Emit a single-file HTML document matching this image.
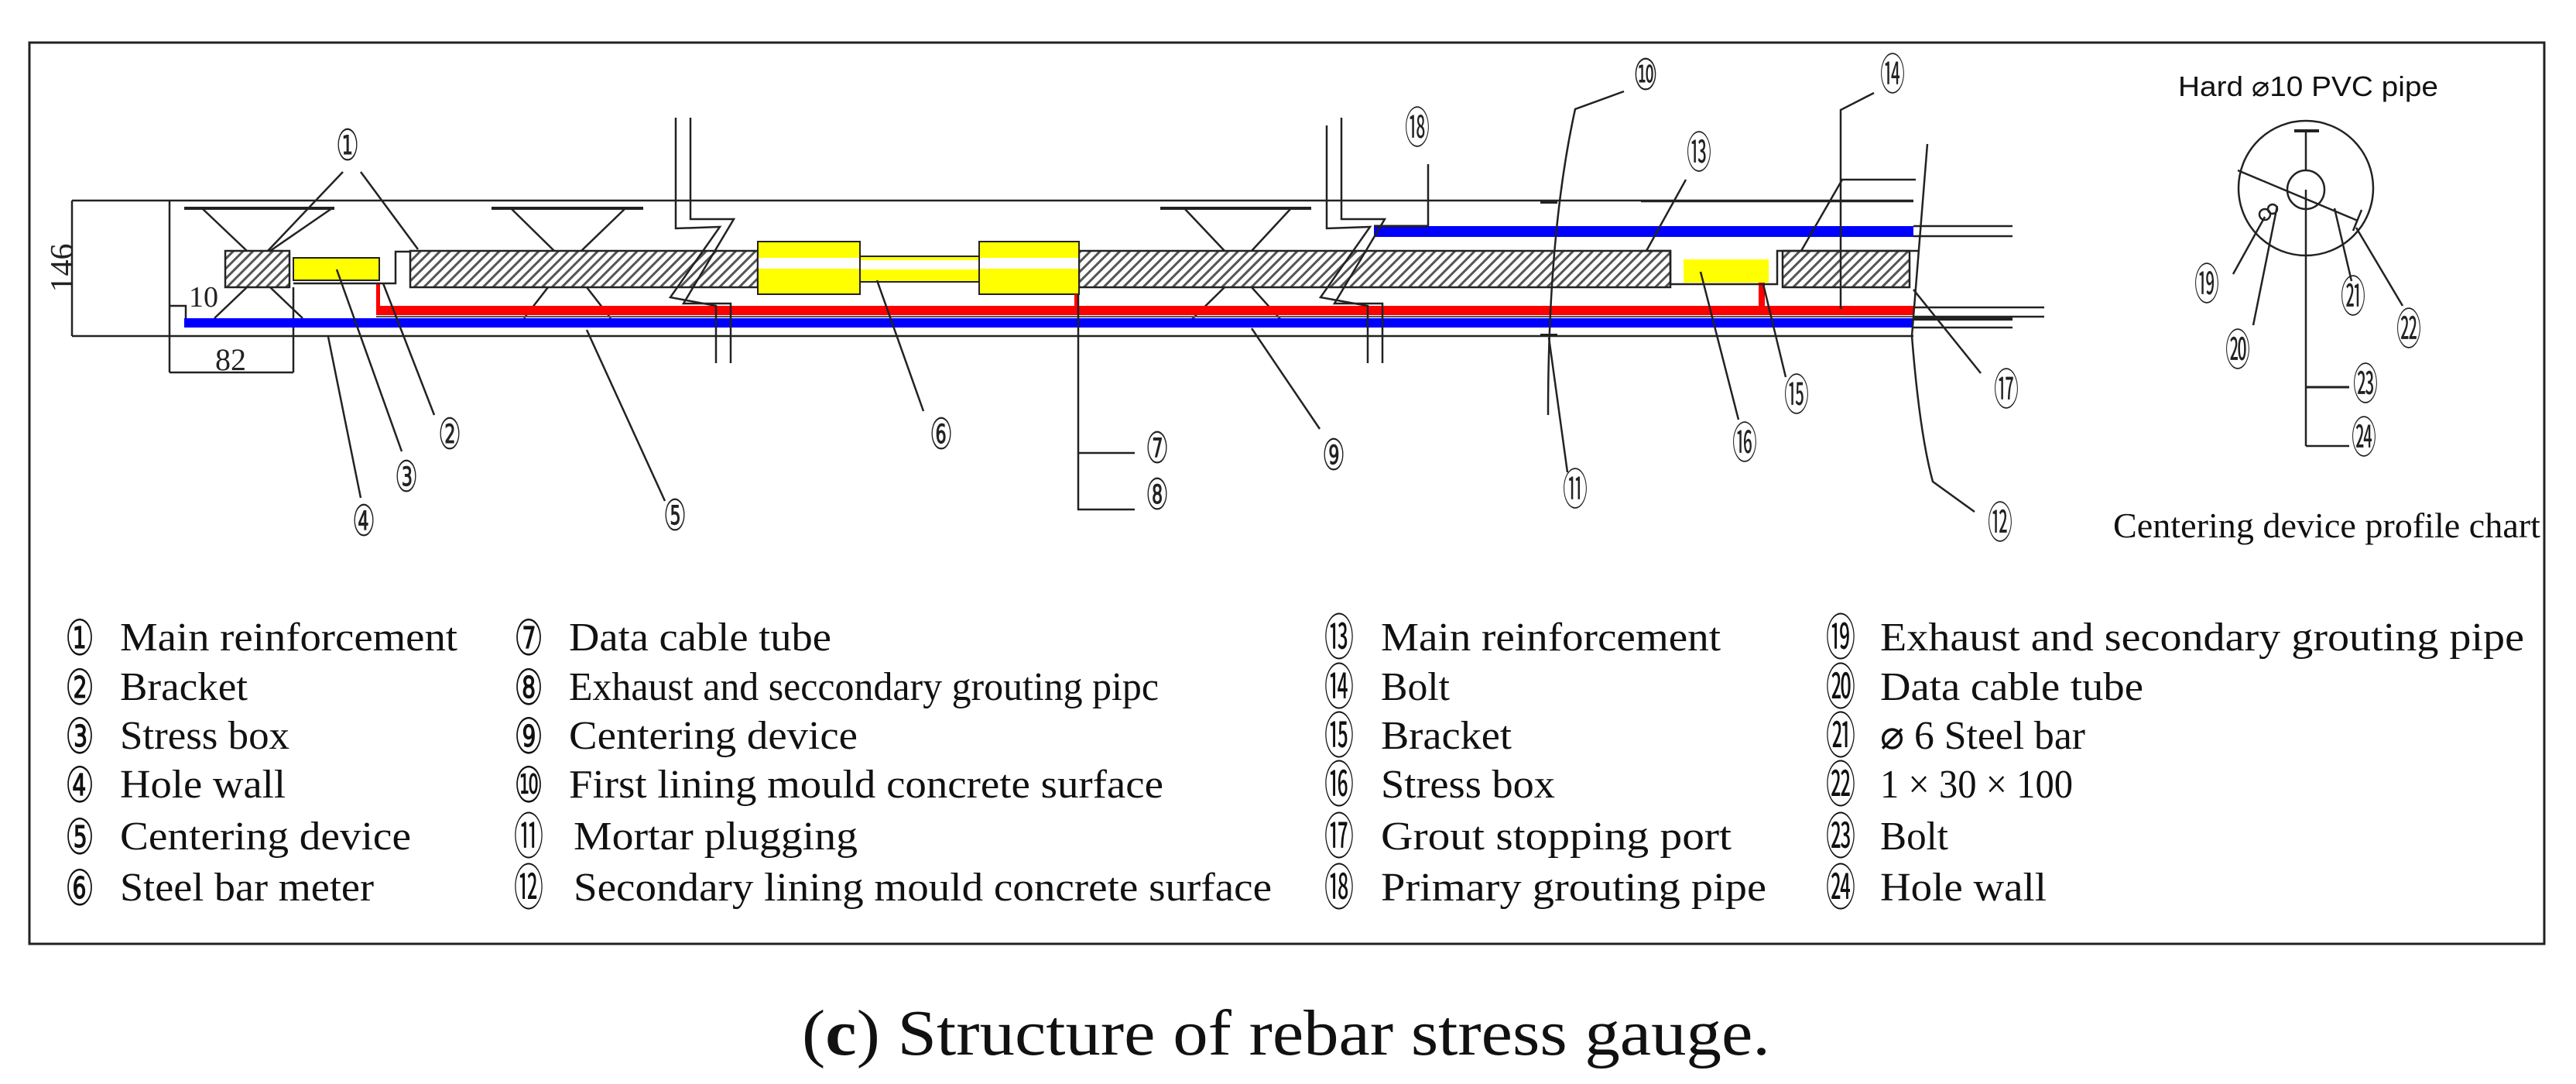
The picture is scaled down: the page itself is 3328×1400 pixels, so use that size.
<!DOCTYPE html>
<html><head><meta charset="utf-8"><style>
html,body{margin:0;padding:0;background:#fff}
svg{display:block}
.n{font-family:"DejaVu Sans","Noto Sans CJK SC",sans-serif;font-size:56px;fill:#222}
.lg{font-family:"Liberation Serif","Noto Serif CJK SC",serif;font-size:52px;fill:#111}
.ln{font-family:"DejaVu Sans","Noto Sans CJK SC",sans-serif;font-size:64px;fill:#111}
</style></head><body>
<svg width="3328" height="1400" viewBox="0 0 3328 1400" xmlns="http://www.w3.org/2000/svg">
<defs>
<pattern id="h" width="9" height="9" patternUnits="userSpaceOnUse" patternTransform="rotate(45)">
<rect width="9" height="9" fill="#fff"/><rect width="3" height="9" fill="#555"/></pattern>
</defs>
<rect x="38" y="55" width="3249" height="1164" fill="none" stroke="#222" stroke-width="3"/>
<g stroke="#222" stroke-width="2.5" fill="none">
<line x1="93" y1="259" x2="2472" y2="259"/>
<line x1="93" y1="434" x2="2472" y2="434"/>
<line x1="93" y1="259" x2="93" y2="434"/>
<line x1="219" y1="259" x2="219" y2="481"/>
<line x1="219" y1="481" x2="379" y2="481"/>
<line x1="379" y1="371" x2="379" y2="481"/>
<polyline points="219,395 240,395 240,411"/>
<line x1="238" y1="269" x2="432" y2="269" stroke-width="4"/>
<line x1="261" y1="269" x2="319" y2="324"/><line x1="429" y1="269" x2="349" y2="324"/>
<line x1="319" y1="371" x2="277" y2="411"/><line x1="349" y1="371" x2="391" y2="411"/>
<line x1="635" y1="269" x2="831" y2="269" stroke-width="4"/>
<line x1="660" y1="269" x2="716" y2="324"/><line x1="808" y1="269" x2="751" y2="324"/>
<line x1="708" y1="371" x2="677" y2="411"/><line x1="758" y1="371" x2="789" y2="411"/>
<line x1="1499" y1="269" x2="1694" y2="269" stroke-width="4"/>
<line x1="1530" y1="269" x2="1582" y2="324"/><line x1="1668" y1="269" x2="1617" y2="324"/>
<line x1="1582" y1="371" x2="1530" y2="422"/><line x1="1617" y1="371" x2="1663" y2="422"/>
</g>
<g stroke="#222" stroke-width="2.5">
<rect x="291" y="324" width="83" height="47" fill="url(#h)"/>
<rect x="530" y="324" width="449" height="47" fill="url(#h)"/>
<rect x="1394" y="324" width="764" height="47" fill="url(#h)"/>
<rect x="2303" y="324" width="164" height="47" fill="url(#h)"/>
</g>
<rect x="379" y="333" width="111" height="29" fill="#ff0" stroke="#222" stroke-width="2"/>
<rect x="979" y="312" width="132" height="68" fill="#ff0" stroke="#222" stroke-width="2"/>
<rect x="980" y="333" width="130" height="14" fill="#fff"/>
<rect x="1111" y="331" width="154" height="33" fill="#ff0" stroke="#222" stroke-width="2"/>
<rect x="1112" y="336" width="152" height="12" fill="#fff"/>
<rect x="1265" y="312" width="129" height="68" fill="#ff0" stroke="#222" stroke-width="2"/>
<rect x="1266" y="333" width="127" height="14" fill="#fff"/>
<rect x="2175" y="335" width="110" height="30" fill="#ff0"/>
<rect x="486" y="395" width="1986" height="12" fill="#f00"/>
<rect x="486" y="366" width="5" height="35" fill="#f00"/>
<rect x="1388" y="380" width="5" height="16" fill="#f00"/>
<rect x="2272" y="365" width="8" height="33" fill="#f00"/>
<line x1="486" y1="409" x2="2472" y2="409" stroke="#555" stroke-width="2"/>
<rect x="238" y="411" width="2234" height="12" fill="#00f"/>
<rect x="1775" y="292" width="697" height="14" fill="#00f"/>
<g stroke="#222" stroke-width="2.5" fill="none">
<polyline points="379,366 511,366 511,325 530,325"/>
<polyline points="2120,324 2158,324 2158,367 2296,367 2296,324 2478,324"/>
<line x1="1775" y1="292" x2="1845" y2="292" stroke-width="3"/>
<polyline points="873,152 873,295 930,293 866,384 925,395 925,469"/>
<polyline points="892,152 892,283 948,283 883,392 944,392 944,469"/>
<polyline points="1714,162 1714,295 1770,293 1706,384 1767,395 1767,469"/>
<polyline points="1733,152 1733,283 1789,283 1724,392 1786,392 1786,469"/>
<line x1="2472" y1="292" x2="2600" y2="292"/><line x1="2472" y1="305" x2="2600" y2="305"/>
<line x1="2472" y1="397" x2="2641" y2="397"/><line x1="2472" y1="409" x2="2641" y2="409"/>
<line x1="2472" y1="412" x2="2600" y2="412" stroke-width="4"/><line x1="2472" y1="423" x2="2600" y2="423"/>
<line x1="2120" y1="260" x2="2472" y2="260"/>
<line x1="443" y1="222" x2="346" y2="324"/><line x1="466" y1="222" x2="540" y2="322"/>
<line x1="561" y1="536" x2="495" y2="366"/>
<line x1="519" y1="583" x2="435" y2="348"/>
<line x1="466" y1="643" x2="424" y2="435"/>
<line x1="859" y1="647" x2="758" y2="426"/>
<line x1="1193" y1="531" x2="1133" y2="362"/>
<polyline points="1393,380 1393,658 1466,658"/><line x1="1393" y1="585" x2="1466" y2="585"/>
<line x1="1705" y1="554" x2="1617" y2="424"/>
<line x1="1845" y1="212" x2="1845" y2="292"/>
<path d="M2098,118 L2035,141 Q2000,300 2000,536"/>
<line x1="1990" y1="261" x2="2012" y2="261" stroke-width="4"/>
<line x1="1990" y1="433" x2="2012" y2="433" stroke-width="4"/>
<line x1="2001" y1="436" x2="2025" y2="610"/>
<line x1="2178" y1="232" x2="2127" y2="324"/>
<polyline points="2421,120 2378,142 2378,399"/>
<line x1="2378" y1="232" x2="2475" y2="232"/>
<line x1="2380" y1="232" x2="2327" y2="324"/>
<line x1="2307" y1="487" x2="2278" y2="367"/>
<line x1="2246" y1="542" x2="2197" y2="351"/>
<line x1="2559" y1="482" x2="2472" y2="374"/>
<path d="M2490,186 L2470,434 Q2480,560 2497,622 L2551,661"/>
<circle cx="2979" cy="243" r="87"/>
<ellipse cx="2979" cy="245" rx="24" ry="25"/>
<line x1="2979" y1="169" x2="2979" y2="220"/>
<line x1="2964" y1="169" x2="2996" y2="169" stroke-width="4"/>
<line x1="2891" y1="220" x2="3046" y2="285"/>
<line x1="3051" y1="271" x2="3040" y2="298"/>
<circle cx="2926" cy="277" r="7"/><circle cx="2936" cy="270" r="6"/>
<line x1="2885" y1="354" x2="2926" y2="280"/>
<line x1="2911" y1="420" x2="2942" y2="266"/>
<line x1="3038" y1="363" x2="3016" y2="269"/>
<line x1="3104" y1="395" x2="3044" y2="294"/>
<line x1="2979" y1="245" x2="2979" y2="576"/>
<line x1="2979" y1="500" x2="3035" y2="500" stroke-width="3"/>
<line x1="2979" y1="576" x2="3035" y2="576"/>
</g>
<text x="0" y="0" transform="translate(94,346) rotate(-90)" text-anchor="middle" font-family="Liberation Serif,serif" font-size="42" fill="#222">146</text>
<text x="263" y="396" text-anchor="middle" font-family="Liberation Serif,serif" font-size="38" fill="#222">10</text>
<text x="298" y="478" text-anchor="middle" font-family="Liberation Serif,serif" font-size="40" fill="#222">82</text>
<g class="n" text-anchor="middle" lengthAdjust="spacingAndGlyphs">
<text x="449" y="207" textLength="30" lengthAdjust="spacingAndGlyphs">①</text>
<text x="581" y="580" textLength="30" lengthAdjust="spacingAndGlyphs">②</text>
<text x="525" y="635" textLength="30" lengthAdjust="spacingAndGlyphs">③</text>
<text x="470" y="692" textLength="30" lengthAdjust="spacingAndGlyphs">④</text>
<text x="872" y="685" textLength="30" lengthAdjust="spacingAndGlyphs">⑤</text>
<text x="1216" y="580" textLength="30" lengthAdjust="spacingAndGlyphs">⑥</text>
<text x="1495" y="598" textLength="30" lengthAdjust="spacingAndGlyphs">⑦</text>
<text x="1495" y="658" textLength="30" lengthAdjust="spacingAndGlyphs">⑧</text>
<text x="1723" y="607" textLength="30" lengthAdjust="spacingAndGlyphs">⑨</text>
<text x="2126" y="116" textLength="32" lengthAdjust="spacingAndGlyphs">⑩</text>
<text x="2035" y="652" textLength="32" lengthAdjust="spacingAndGlyphs">⑪</text>
<text x="2584" y="695" textLength="32" lengthAdjust="spacingAndGlyphs">⑫</text>
<text x="2195" y="217" textLength="32" lengthAdjust="spacingAndGlyphs">⑬</text>
<text x="2445" y="116" textLength="32" lengthAdjust="spacingAndGlyphs">⑭</text>
<text x="2321" y="530" textLength="32" lengthAdjust="spacingAndGlyphs">⑮</text>
<text x="2254" y="592" textLength="32" lengthAdjust="spacingAndGlyphs">⑯</text>
<text x="2592" y="523" textLength="32" lengthAdjust="spacingAndGlyphs">⑰</text>
<text x="1831" y="185" textLength="32" lengthAdjust="spacingAndGlyphs">⑱</text>
<text x="2851" y="387" textLength="32" lengthAdjust="spacingAndGlyphs">⑲</text>
<text x="2891" y="472" textLength="32" lengthAdjust="spacingAndGlyphs">⑳</text>
<text x="3040" y="403" textLength="32" lengthAdjust="spacingAndGlyphs">㉑</text>
<text x="3112" y="445" textLength="32" lengthAdjust="spacingAndGlyphs">㉒</text>
<text x="3056" y="516" textLength="32" lengthAdjust="spacingAndGlyphs">㉓</text>
<text x="3054" y="585" textLength="32" lengthAdjust="spacingAndGlyphs">㉔</text>
</g>
<text x="2814" y="124" font-family="Liberation Sans,sans-serif" font-size="36" fill="#111" textLength="336" lengthAdjust="spacingAndGlyphs">Hard ⌀10 PVC pipe</text>
<text x="2730" y="694" font-family="Liberation Serif,serif" font-size="46" fill="#111" textLength="552" lengthAdjust="spacingAndGlyphs">Centering device profile chart</text>
<g class="ln" text-anchor="middle">
<text x="103" y="846" textLength="38" lengthAdjust="spacingAndGlyphs">①</text><text x="103" y="910" textLength="38" lengthAdjust="spacingAndGlyphs">②</text><text x="103" y="973" textLength="38" lengthAdjust="spacingAndGlyphs">③</text><text x="103" y="1036" textLength="38" lengthAdjust="spacingAndGlyphs">④</text><text x="103" y="1103" textLength="38" lengthAdjust="spacingAndGlyphs">⑤</text><text x="103" y="1169" textLength="38" lengthAdjust="spacingAndGlyphs">⑥</text>
<text x="683" y="846" textLength="38" lengthAdjust="spacingAndGlyphs">⑦</text><text x="683" y="910" textLength="38" lengthAdjust="spacingAndGlyphs">⑧</text><text x="683" y="973" textLength="38" lengthAdjust="spacingAndGlyphs">⑨</text><text x="683" y="1036" textLength="38" lengthAdjust="spacingAndGlyphs">⑩</text><text x="683" y="1103" textLength="38" lengthAdjust="spacingAndGlyphs">⑪</text><text x="683" y="1169" textLength="38" lengthAdjust="spacingAndGlyphs">⑫</text>
<text x="1730" y="846" textLength="38" lengthAdjust="spacingAndGlyphs">⑬</text><text x="1730" y="910" textLength="38" lengthAdjust="spacingAndGlyphs">⑭</text><text x="1730" y="973" textLength="38" lengthAdjust="spacingAndGlyphs">⑮</text><text x="1730" y="1036" textLength="38" lengthAdjust="spacingAndGlyphs">⑯</text><text x="1730" y="1103" textLength="38" lengthAdjust="spacingAndGlyphs">⑰</text><text x="1730" y="1169" textLength="38" lengthAdjust="spacingAndGlyphs">⑱</text>
<text x="2378" y="846" textLength="38" lengthAdjust="spacingAndGlyphs">⑲</text><text x="2378" y="910" textLength="38" lengthAdjust="spacingAndGlyphs">⑳</text><text x="2378" y="973" textLength="38" lengthAdjust="spacingAndGlyphs">㉑</text><text x="2378" y="1036" textLength="38" lengthAdjust="spacingAndGlyphs">㉒</text><text x="2378" y="1103" textLength="38" lengthAdjust="spacingAndGlyphs">㉓</text><text x="2378" y="1169" textLength="38" lengthAdjust="spacingAndGlyphs">㉔</text>
</g>
<g class="lg">
<text x="155" y="840" textLength="436" lengthAdjust="spacingAndGlyphs">Main reinforcement</text>
<text x="155" y="904" textLength="165" lengthAdjust="spacingAndGlyphs">Bracket</text>
<text x="155" y="967" textLength="219" lengthAdjust="spacingAndGlyphs">Stress box</text>
<text x="155" y="1030" textLength="214" lengthAdjust="spacingAndGlyphs">Hole wall</text>
<text x="155" y="1097" textLength="376" lengthAdjust="spacingAndGlyphs">Centering device</text>
<text x="155" y="1163" textLength="328" lengthAdjust="spacingAndGlyphs">Steel bar meter</text>
<text x="735" y="840" textLength="339" lengthAdjust="spacingAndGlyphs">Data cable tube</text>
<text x="735" y="904" textLength="762" lengthAdjust="spacingAndGlyphs">Exhaust and seccondary grouting pipc</text>
<text x="735" y="967" textLength="373" lengthAdjust="spacingAndGlyphs">Centering device</text>
<text x="735" y="1030" textLength="768" lengthAdjust="spacingAndGlyphs">First lining mould concrete surface</text>
<text x="741" y="1097" textLength="367" lengthAdjust="spacingAndGlyphs">Mortar plugging</text>
<text x="741" y="1163" textLength="902" lengthAdjust="spacingAndGlyphs">Secondary lining mould concrete surface</text>
<text x="1784" y="840" textLength="439" lengthAdjust="spacingAndGlyphs">Main reinforcement</text>
<text x="1784" y="904" textLength="89" lengthAdjust="spacingAndGlyphs">Bolt</text>
<text x="1784" y="967" textLength="169" lengthAdjust="spacingAndGlyphs">Bracket</text>
<text x="1784" y="1030" textLength="225" lengthAdjust="spacingAndGlyphs">Stress box</text>
<text x="1784" y="1097" textLength="453" lengthAdjust="spacingAndGlyphs">Grout stopping port</text>
<text x="1784" y="1163" textLength="498" lengthAdjust="spacingAndGlyphs">Primary grouting pipe</text>
<text x="2429" y="840" textLength="832" lengthAdjust="spacingAndGlyphs">Exhaust and secondary grouting pipe</text>
<text x="2429" y="904" textLength="340" lengthAdjust="spacingAndGlyphs">Data cable tube</text>
<text x="2429" y="967" textLength="265" lengthAdjust="spacingAndGlyphs">⌀ 6 Steel bar</text>
<text x="2429" y="1030" textLength="249" lengthAdjust="spacingAndGlyphs">1 × 30 × 100</text>
<text x="2429" y="1097" textLength="88" lengthAdjust="spacingAndGlyphs">Bolt</text>
<text x="2429" y="1163" textLength="215" lengthAdjust="spacingAndGlyphs">Hole wall</text>
</g>
<text x="1036" y="1362" font-family="Liberation Serif,serif" font-size="84" fill="#111" textLength="1251" lengthAdjust="spacingAndGlyphs">(<tspan font-weight="bold">c</tspan>) Structure of rebar stress gauge.</text>
</svg>
</body></html>
